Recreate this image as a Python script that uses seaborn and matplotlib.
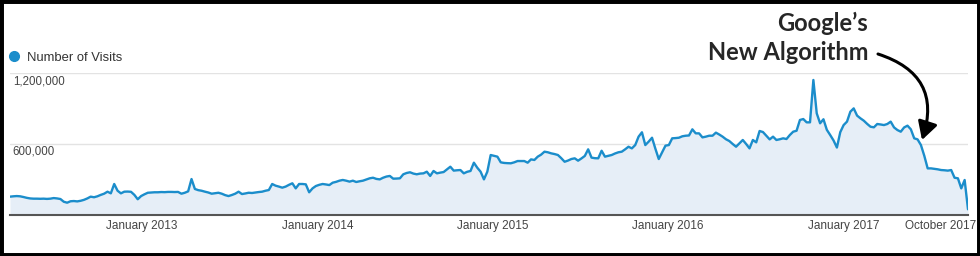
import numpy as np
import pandas as pd
import matplotlib
matplotlib.use("Agg")
import matplotlib.pyplot as plt
import matplotlib.transforms as mtransforms
from matplotlib.lines import Line2D
from matplotlib.patches import Rectangle
import seaborn as sns

# ---------------- data (weekly visits) ----------------
start_week = "2012-04-01"
visits_k = [
    155, 158, 160, 158, 152, 145, 140, 138, 138, 137,
    138, 136, 138, 143, 140, 135, 112, 104, 116, 118,
    115, 120, 128, 140, 155, 150, 158, 170, 180, 197,
    183, 262, 205, 183, 197, 198, 196, 170, 133, 160,
    175, 188, 190, 192, 192, 194, 193, 195, 195, 194,
    195, 180, 188, 200, 304, 220, 210, 205, 197, 190,
    180, 184, 188, 180, 168, 160, 169, 180, 197, 177,
    182, 188, 186, 190, 194, 197, 205, 211, 262, 248,
    240, 231, 240, 255, 268, 225, 262, 262, 259, 192,
    225, 245, 255, 262, 258, 253, 273, 280, 290, 296,
    290, 282, 290, 279, 285, 290, 300, 310, 315, 305,
    301, 315, 325, 330, 307, 308, 310, 344, 355, 361,
    350, 344, 350, 352, 366, 330, 372, 352, 358, 363,
    385, 408, 375, 378, 380, 352, 365, 372, 442, 400,
    366, 301, 366, 507, 500, 493, 445, 440, 438, 437,
    445, 456, 456, 456, 442, 470, 465, 493, 510, 535,
    530, 521, 515, 507, 480, 450, 460, 473, 479, 459,
    478, 499, 555, 485, 480, 479, 543, 493, 500, 507,
    520, 530, 535, 555, 577, 563, 591, 662, 699, 591,
    620, 653, 560, 473, 530, 586, 591, 648, 650, 653,
    665, 670, 672, 724, 690, 690, 656, 662, 670, 670,
    696, 680, 662, 640, 625, 600, 577, 606, 634, 600,
    563, 634, 614, 710, 701, 670, 639, 662, 634, 640,
    648, 642, 676, 704, 712, 803, 811, 783, 783, 1141,
    859, 775, 809, 720, 676, 630, 570, 700, 760, 789,
    873, 901, 840, 817, 797, 770, 746, 741, 769, 765,
    760, 769, 789, 740, 718, 704, 740, 755, 724, 648,
    639, 591, 500, 394, 394, 390, 386, 380, 378, 375,
    380, 315, 310, 225, 296, 48,
]
series_name = "Number of Visits"
y_ticks = [600000, 1200000]
y_tick_labels = ["600,000", "1,200,000"]
x_tick_dates = ["2013-01-01", "2014-01-01", "2015-01-01", "2016-01-01", "2017-01-01"]
x_tick_labels = ["January 2013", "January 2014", "January 2015", "January 2016", "January 2017"]
last_label = "October 2017"
annotation_text = "Google\u2019s\nNew Algorithm"

dates = pd.date_range(start_week, periods=len(visits_k), freq="7D")
df = pd.DataFrame({"date": dates, "visits": np.array(visits_k) * 1000})

# ---------------- style ----------------
sns.set_theme(style="white")
plt.rcParams["font.family"] = ["Liberation Sans", "DejaVu Sans"]

W, H = 980, 256
fig = plt.figure(figsize=(W / 100, H / 100), dpi=100)
fig.patch.set_facecolor("white")
ax = fig.add_axes([10 / W, 41 / H, 958 / W, 142 / H])

blue = "#1b8dcb"
fill = "#e6eef7"

ax.fill_between(df["date"], df["visits"], 0, color=fill, linewidth=0, zorder=1)
sns.lineplot(data=df, x="date", y="visits", ax=ax, color=blue, linewidth=1.7,
             zorder=3, legend=False)

ax.set_xlim(df["date"].iloc[0], df["date"].iloc[-1])
ax.set_ylim(0, 1200000)
ax.set_xlabel("")
ax.set_ylabel("")

# grid lines
for v in y_ticks:
    ax.axhline(v, color="#e3e3e3", linewidth=1.0, zorder=0)
ax.set_yticks([])
for v, lab in zip(y_ticks, y_tick_labels):
    ax.text(0.003, v, lab, transform=mtransforms.blended_transform_factory(ax.transAxes, ax.transData)
            + mtransforms.ScaledTranslation(0, -2 / 100, fig.dpi_scale_trans),
            ha="left", va="top", fontsize=8.3, color="#444444")

# x ticks
tick_pos = list(pd.to_datetime(x_tick_dates)) + [df["date"].iloc[-1]]
ax.set_xticks(tick_pos)
ax.set_xticklabels(x_tick_labels + [last_label], fontsize=8.5, color="#444444")
ax.tick_params(axis="x", length=0, pad=3.5)
last = ax.get_xticklabels()[-1]
last.set_ha("right")
last.set_transform(last.get_transform() + mtransforms.ScaledTranslation(8 / 100, 0, fig.dpi_scale_trans))

for s in ["top", "right", "left"]:
    ax.spines[s].set_visible(False)
ax.spines["bottom"].set_color("#555555")
ax.spines["bottom"].set_linewidth(1.5)
ax.spines["bottom"].set_zorder(4)

# legend
handle = Line2D([], [], marker="o", linestyle="none", markersize=7,
                markerfacecolor=blue, markeredgecolor=blue)
fig.legend([handle], [series_name], loc="center left",
           bbox_to_anchor=(-4 / W, 1 - 58 / H), frameon=False,
           handlelength=1.0, handletextpad=0.45, prop={"size": 9.4, "family": "Liberation Sans"},
           labelcolor="#333333")

# annotation
fig.text(868 / W, 1 - 12 / H, annotation_text, ha="right", va="top",
         fontsize=17, fontweight="bold", family=["Lato", "DejaVu Sans"], color="#262626",
         linespacing=1.3, multialignment="right")
ax.annotate("", xy=(922, H - 140), xycoords="figure pixels",
            xytext=(878, H - 54), textcoords="figure pixels",
            arrowprops=dict(arrowstyle="-|>,head_length=0.9,head_width=0.5", color="black",
                            linewidth=2.2, connectionstyle="arc3,rad=-0.5",
                            shrinkA=0, shrinkB=0))

# black frame
fig.patches.append(Rectangle((0, 0), 1, 1, transform=fig.transFigure, fill=False,
                             edgecolor="black", linewidth=5, zorder=10))

fig.savefig("out.png", dpi=100)
